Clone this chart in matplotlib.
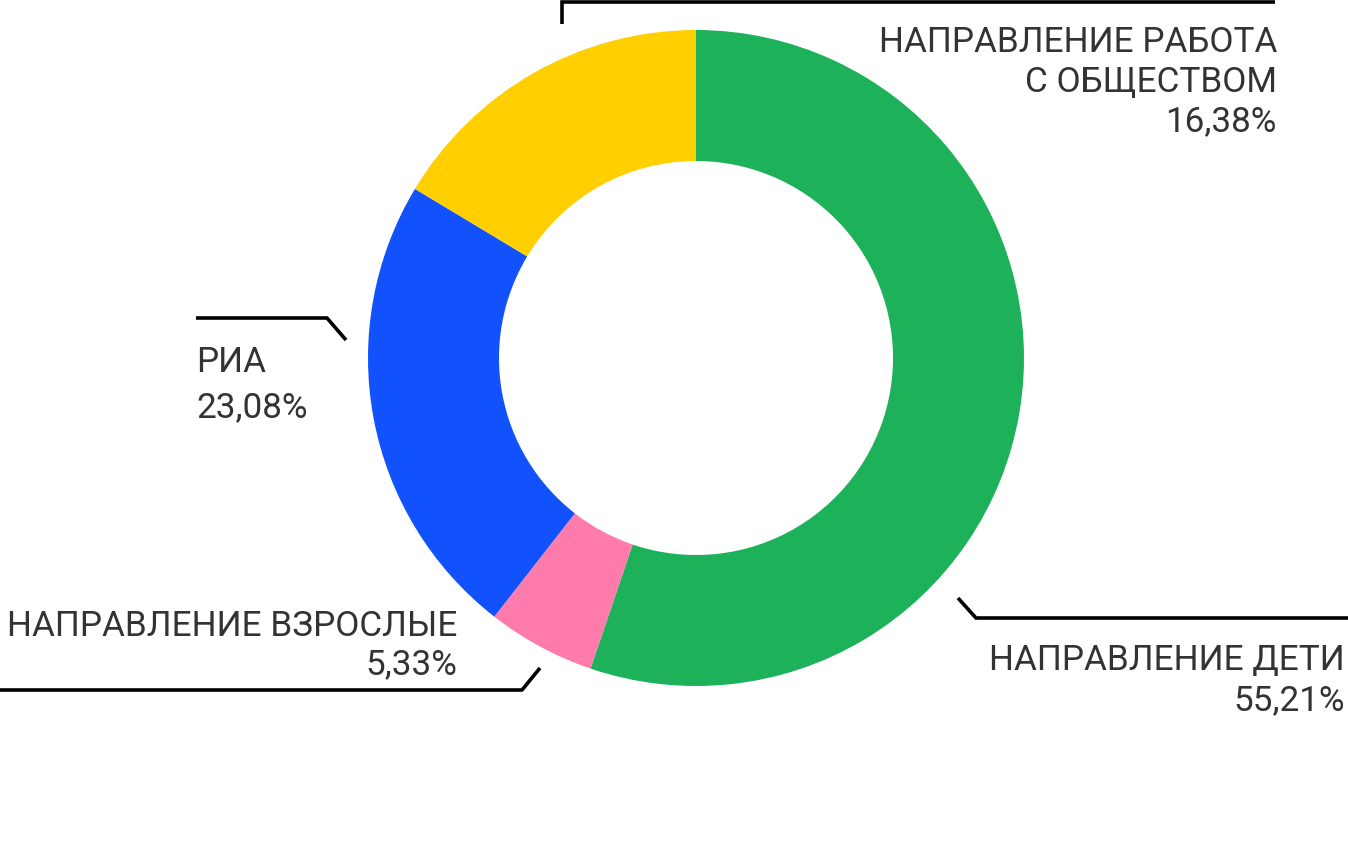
import matplotlib
matplotlib.use("Agg")
import matplotlib.pyplot as plt

categories = ["НАПРАВЛЕНИЕ ДЕТИ", "НАПРАВЛЕНИЕ ВЗРОСЛЫЕ", "РИА", "НАПРАВЛЕНИЕ РАБОТА\nС ОБЩЕСТВОМ"]
values = [55.21, 5.33, 23.08, 16.38]
value_labels = ["55,21%", "5,33%", "23,08%", "16,38%"]
colors = ["#1DB15A", "#FF7BAC", "#1152FC", "#FFCF00"]

W, H = 1348, 852
DPI = 100
fig = plt.figure(figsize=(W / DPI, H / DPI), dpi=DPI)
ax = fig.add_axes([0, 0, 1, 1])

def Y(y):
    return H - y

cx, cy, R, r = 696, 358, 328, 197
ax.pie(values, colors=colors, startangle=90, counterclock=False,
       center=(cx, Y(cy)), radius=R, frame=True,
       wedgeprops=dict(width=R - r, linewidth=0))
ax.set_xlim(0, W)
ax.set_ylim(0, H)
ax.set_aspect("equal")
ax.axis("off")

fam = ["Roboto", "DejaVu Sans"]
tc = "#333333"
fs = 25.3
lw = 2.6

def line(xs, ys):
    ax.plot(xs, [Y(v) for v in ys], color="black", lw=lw, solid_capstyle="butt",
            solid_joinstyle="miter", clip_on=False)

def label(x, y_base, text, ha, weight="normal"):
    ax.text(x, Y(y_base), text, ha=ha, va="baseline", fontsize=fs,
            family=fam, color=tc, fontweight=weight)

# Top-right: работа с обществом
line([562, 562, 1275], [24, 2, 2])
label(1277, 52, "НАПРАВЛЕНИЕ РАБОТА", "right")
label(1277, 92, "С ОБЩЕСТВОМ", "right")
label(1277, 131, value_labels[3], "right")

# Right-bottom: дети
line([958, 976, 1348], [598, 618, 618])
label(1345, 670, categories[0], "right")
label(1345, 710, value_labels[0], "right")

# Left-bottom: взрослые
line([0, 522, 540], [690, 690, 668])
label(457, 636, categories[1], "right")
label(457, 674, value_labels[1], "right")

# Left: РИА
line([196, 327, 346], [318, 318, 340])
label(196, 372, categories[2], "left")
label(196, 417, value_labels[2], "left")

fig.savefig("out.png", dpi=DPI, facecolor="white")
